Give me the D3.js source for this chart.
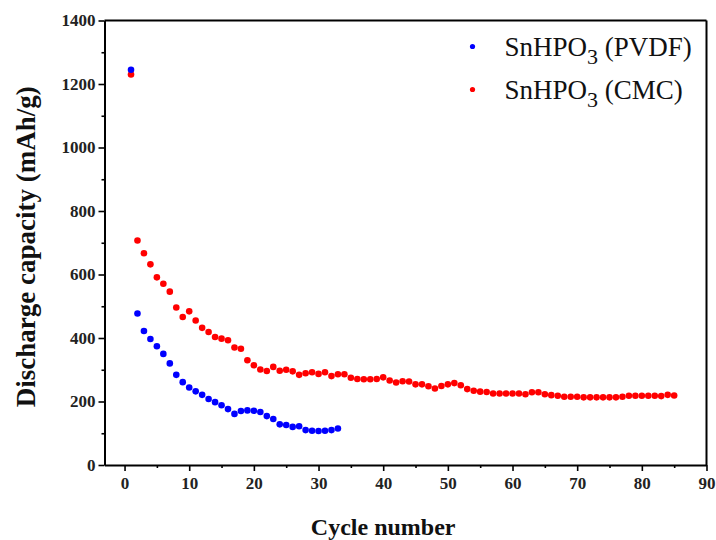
<!DOCTYPE html>
<html>
<head>
<meta charset="utf-8">
<script src="https://cdn.jsdelivr.net/npm/d3@7"></script>
<style>
  body { margin: 0; background: #fff; }
  svg { display: block; }
</style>
</head>
<body>
<svg id="chart"></svg>
<script>
// cycle numbers and discharge capacities (mAh/g)
const pvdfCycles = d3.range(1, 34);
const pvdfValues = [1245, 477, 422, 397, 374, 350, 320, 284, 261, 244,
    232, 221, 208, 198, 188, 176, 161, 170, 172, 171,
    167, 154, 145, 128, 126, 120, 122, 110, 108, 107,
    108, 110, 115];

const cmcCycles = d3.range(1, 86);
const cmcValues = [1230, 707, 667, 632, 591, 571, 546, 496, 466, 484,
    455, 432, 419, 403, 398, 393, 370, 366, 330, 314,
    301, 296, 309, 297, 300, 295, 284, 289, 292, 287,
    292, 280, 286, 286, 275, 271, 270, 270, 271, 276,
    266, 260, 264, 263, 254, 254, 248, 241, 249, 254,
    258, 251, 239, 234, 231, 230, 225, 225, 225, 225,
    225, 223, 229, 229, 223, 220, 218, 215, 215, 215,
    213, 213, 213, 213, 213, 213, 215, 218, 218, 218,
    218, 218, 217, 221, 219];

const xTicks = [0, 10, 20, 30, 40, 50, 60, 70, 80, 90];
const yTicks = [0, 200, 400, 600, 800, 1000, 1200, 1400];

const seriesNames = ["PVDF", "CMC"];
const seriesColors = ["#0000ff", "#ff0000"];

const svgWidth = 716;
const svgHeight = 540;
const margin = { top: 20.5, right: 9.5, bottom: 75, left: 104.5 };
const width = svgWidth - margin.left - margin.right;
const height = svgHeight - margin.top - margin.bottom;
const serif = "'Liberation Serif', 'Times New Roman', serif";

const svg = d3.select("#chart")
    .attr("width", svgWidth)
    .attr("height", svgHeight)
    .style("font-family", serif);

const g = svg.append("g").attr("transform", `translate(${margin.left},${margin.top})`);

const xScale = d3.scaleLinear().domain([-3.1, 90]).range([0, width]);
const yScale = d3.scaleLinear().domain([0, 1400]).range([height, 0]);
const colorScale = d3.scaleOrdinal().domain(seriesNames).range(seriesColors);

// minor ticks
g.append("g")
    .attr("transform", `translate(0,${height})`)
    .call(d3.axisBottom(xScale).tickValues(d3.range(5, 90, 10)).tickSize(3).tickFormat(""))
    .call(a => a.select(".domain").remove())
    .selectAll("line").attr("stroke-width", 1.6);

g.append("g")
    .call(d3.axisLeft(yScale).tickValues(d3.range(100, 1400, 200)).tickSize(3).tickFormat(""))
    .call(a => a.select(".domain").remove())
    .selectAll("line").attr("stroke-width", 1.6);

// major axes
const xAxis = g.append("g")
    .attr("transform", `translate(0,${height})`)
    .call(d3.axisBottom(xScale).tickValues(xTicks).tickFormat(d3.format("d"))
        .tickSize(6).tickSizeOuter(0).tickPadding(6));

const yAxis = g.append("g")
    .call(d3.axisLeft(yScale).tickValues(yTicks).tickFormat(d3.format("d"))
        .tickSize(6).tickSizeOuter(0).tickPadding(3));

[xAxis, yAxis].forEach(a => {
    a.attr("font-family", serif)
        .attr("font-size", 17)
        .attr("font-weight", "bold");
    a.select(".domain").attr("stroke-width", 2);
    a.selectAll("line").attr("stroke-width", 1.6);
    a.selectAll("text").attr("fill", "#222");
});

// frame top and right
g.append("line").attr("x1", 0).attr("x2", width).attr("y1", 0).attr("y2", 0)
    .attr("stroke", "#000").attr("stroke-width", 2);
g.append("line").attr("x1", width).attr("x2", width).attr("y1", 0).attr("y2", height)
    .attr("stroke", "#000").attr("stroke-width", 2);

// points
const series = [
    { name: "PVDF", cycles: pvdfCycles, values: pvdfValues },
    { name: "CMC", cycles: cmcCycles, values: cmcValues }
];

series.slice().reverse().forEach(s => {
    g.selectAll(".pt-" + s.name)
        .data(s.values)
        .enter().append("circle")
        .attr("class", "pt-" + s.name)
        .attr("cx", (d, i) => xScale(s.cycles[i]))
        .attr("cy", d => yScale(d))
        .attr("r", 3.3)
        .attr("fill", colorScale(s.name));
});

// legend
const legend = g.selectAll(".legend")
    .data(seriesNames)
    .enter().append("g")
    .attr("class", "legend")
    .attr("transform", (d, i) => `translate(${368},${26 + i * 43})`);

legend.append("circle")
    .attr("cx", 0)
    .attr("cy", 0)
    .attr("r", 2.6)
    .attr("fill", colorScale);

const legendText = legend.append("text")
    .attr("x", 32)
    .attr("y", 9)
    .style("font-size", "27px")
    .attr("fill", "#111");
legendText.append("tspan").text("SnHPO");
legendText.append("tspan").text("3").attr("dy", 8).style("font-size", "22px");
legendText.append("tspan").text(d => ` (${d})`).attr("dy", -8);

// axis titles
svg.append("text")
    .attr("x", margin.left + xScale(40))
    .attr("y", 535)
    .attr("text-anchor", "middle")
    .style("font-weight", "bold")
    .style("font-size", "24px")
    .attr("fill", "#111")
    .text("Cycle number");

svg.append("text")
    .attr("transform", "rotate(-90)")
    .attr("x", -(margin.top + height / 2) - 4)
    .attr("y", 35)
    .attr("text-anchor", "middle")
    .style("font-weight", "bold")
    .style("font-size", "27px")
    .attr("fill", "#111")
    .text("Discharge capacity (mAh/g)");
</script>
</body>
</html>
